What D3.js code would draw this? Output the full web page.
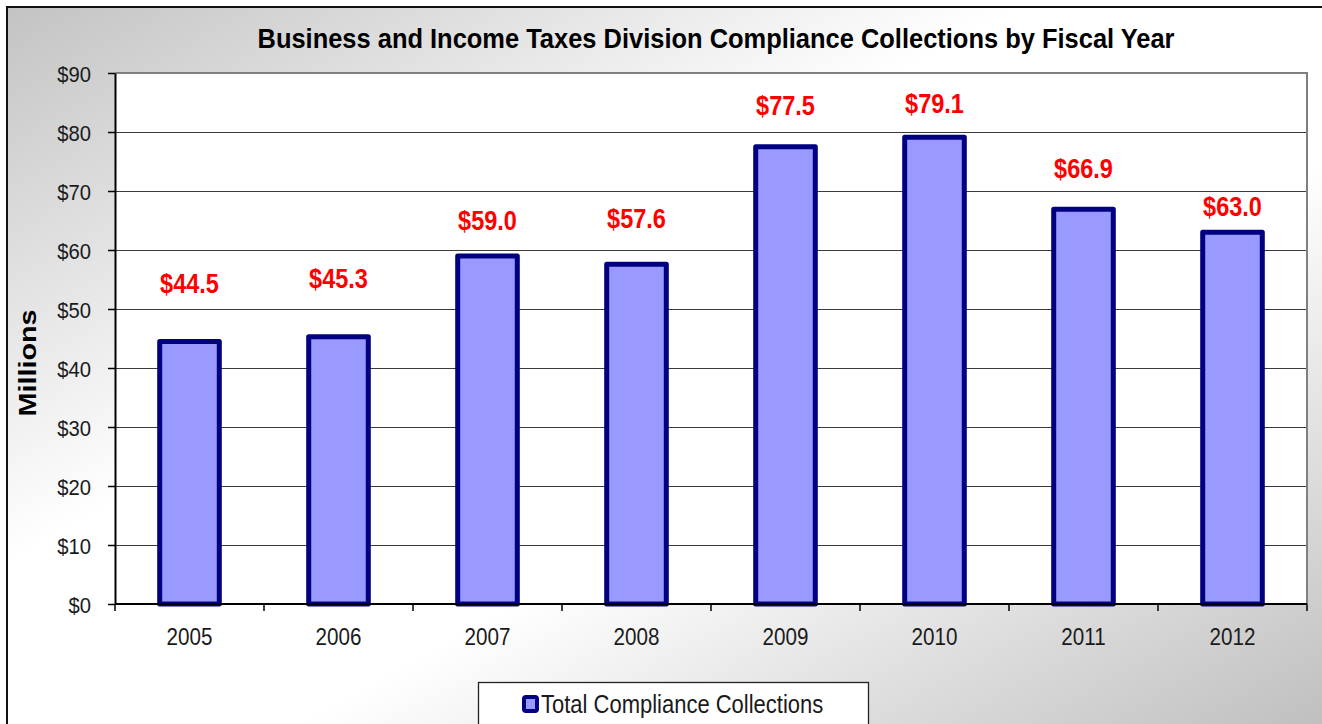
<!DOCTYPE html>
<html>
<head>
<meta charset="utf-8">
<script src="https://cdn.jsdelivr.net/npm/d3@7"></script>
<style>
  body { margin: 0; background: #fff; }
  svg { display: block; font-family: Arial, "Liberation Sans", sans-serif; }
</style>
</head>
<body>
<svg id="chart" width="1322" height="724"></svg>
<script>
// Data
const chartTitle = "Business and Income Taxes Division Compliance Collections by Fiscal Year";
const seriesName = "Total Compliance Collections";
const years = ["2005", "2006", "2007", "2008", "2009", "2010", "2011", "2012"];
const collections = [44.5, 45.3, 59.0, 57.6, 77.5, 79.1, 66.9, 63.0];
// where each red label sits, in axis units (they were moved by hand in the original)
const labelAt = [52.7, 53.6, 63.4, 63.7, 82.9, 83.2, 72.2, 65.8];
const yTickValues = [0, 10, 20, 30, 40, 50, 60, 70, 80, 90];

function makeChart() {
    let svg = d3.select("#chart");
    let left = 115, right = 1307, top = 73, bottom = 604;

    // background gradient of the chart area
    let grad = svg.append("defs").append("linearGradient")
        .attr("id", "bg").attr("x1", 0).attr("y1", 0).attr("x2", 1).attr("y2", 1);
    grad.append("stop").attr("offset", "0").attr("stop-color", "#c3c3c3");
    grad.append("stop").attr("offset", "0.38").attr("stop-color", "#ffffff");
    grad.append("stop").attr("offset", "0.6").attr("stop-color", "#ffffff");
    grad.append("stop").attr("offset", "1").attr("stop-color", "#bdbdbd");

    svg.append("rect")
        .attr("x", 7).attr("y", 7).attr("width", 1330).attr("height", 730)
        .attr("fill", "url(#bg)").attr("stroke", "#111").attr("stroke-width", 2);

    let scX = d3.scaleBand()
        .domain(years)
        .range([left, right])
        .paddingInner(0.6).paddingOuter(0.3);
    let scY = d3.scaleLinear()
        .domain([0, 90])
        .range([bottom, top]);

    // plot area
    svg.append("rect")
        .attr("x", left).attr("y", top)
        .attr("width", right - left).attr("height", bottom - top)
        .attr("fill", "#fff");

    svg.append("g").attr("id", "grid")
        .selectAll("line")
        .data(yTickValues.filter(d => d > 0 && d < 90))
        .enter().append("line")
        .attr("x1", left).attr("x2", right)
        .attr("y1", d => Math.round(scY(d)) + 0.5)
        .attr("y2", d => Math.round(scY(d)) + 0.5)
        .attr("stroke", "#3a3a3a").attr("stroke-width", 1.2);

    // grey frame on top and right
    svg.append("path")
        .attr("d", `M${left},${top}H${right}V${bottom}`)
        .attr("fill", "none").attr("stroke", "#808080").attr("stroke-width", 2);

    // y axis
    let yAxis = svg.append("g")
        .attr("transform", `translate(${left},0)`)
        .call(d3.axisLeft(scY).tickValues(yTickValues)
            .tickFormat(d => "$" + d).tickSize(7).tickSizeOuter(0));
    yAxis.select(".domain").attr("stroke", "#000").attr("stroke-width", 2);
    yAxis.selectAll(".tick line").attr("stroke", "#000").attr("stroke-width", 1.5);
    yAxis.selectAll("text")
        .attr("font-size", 22).attr("fill", "#1a1a1a")
        .attr("font-family", "Arial, 'Liberation Sans', sans-serif")
        .attr("x", -26).attr("dy", "0.4em")
        .attr("transform", "scale(0.92,1)");

    // bars
    svg.append("g").attr("id", "bars")
        .selectAll("rect")
        .data(collections).enter().append("rect")
        .attr("x", (d, i) => scX(years[i]))
        .attr("y", d => scY(d))
        .attr("width", scX.bandwidth())
        .attr("height", d => bottom - scY(d))
        .attr("fill", "#9999ff")
        .attr("stroke", "#000080").attr("stroke-width", 5)
        .attr("stroke-linejoin", "round");

    // x axis: ticks between the categories
    let xAxis = svg.append("g")
        .attr("transform", `translate(0,${bottom})`);
    xAxis.append("line")
        .attr("x1", left).attr("x2", right)
        .attr("y1", 0).attr("y2", 0)
        .attr("stroke", "#000").attr("stroke-width", 2);
    xAxis.selectAll("line.tk")
        .data(d3.range(years.length + 1)).enter().append("line")
        .attr("class", "tk")
        .attr("x1", i => left + i * scX.step()).attr("x2", i => left + i * scX.step())
        .attr("y1", 0).attr("y2", 7)
        .attr("stroke", "#000").attr("stroke-width", 1.5);
    xAxis.selectAll("text")
        .data(years).enter().append("text")
        .attr("transform", d => `translate(${scX(d) + scX.bandwidth() / 2},41) scale(0.86,1)`)
        .attr("text-anchor", "middle")
        .attr("font-size", 24).attr("fill", "#1a1a1a")
        .text(d => d);

    // red value labels
    let fmt = d3.format("$.1f");
    svg.append("g").attr("id", "labels")
        .selectAll("text")
        .data(collections).enter().append("text")
        .attr("transform", (d, i) =>
            `translate(${scX(years[i]) + scX.bandwidth() / 2},${scY(labelAt[i])}) scale(0.87,1)`)
        .attr("text-anchor", "middle")
        .attr("font-size", 27).attr("font-weight", "bold")
        .attr("fill", "#ff0000")
        .text(d => fmt(d));

    // title
    svg.append("text")
        .attr("x", 716).attr("y", 48)
        .attr("text-anchor", "middle")
        .attr("font-size", 27).attr("font-weight", "bold")
        .attr("textLength", 917).attr("lengthAdjust", "spacingAndGlyphs")
        .attr("fill", "#000")
        .text(chartTitle);

    // y axis title
    svg.append("text")
        .attr("transform", "translate(36,363) rotate(-90) scale(1.2,1)")
        .attr("text-anchor", "middle")
        .attr("font-size", 24).attr("font-weight", "bold")
        .attr("fill", "#000")
        .text("Millions");

    // legend
    let legend = svg.append("g").attr("id", "legend");
    legend.append("rect")
        .attr("x", 478.5).attr("y", 682.5).attr("width", 390).attr("height", 60)
        .attr("fill", "#fff").attr("stroke", "#222").attr("stroke-width", 1.3);
    legend.append("rect")
        .attr("x", 524).attr("y", 697).attr("width", 13).attr("height", 14)
        .attr("rx", 2)
        .attr("fill", "#9999ff").attr("stroke", "#000080").attr("stroke-width", 4);
    legend.append("text")
        .attr("transform", "translate(541,713) scale(0.88,1)")
        .attr("font-size", 25).attr("fill", "#1a1a1a")
        .text(seriesName);
}

makeChart();
</script>
</body>
</html>
